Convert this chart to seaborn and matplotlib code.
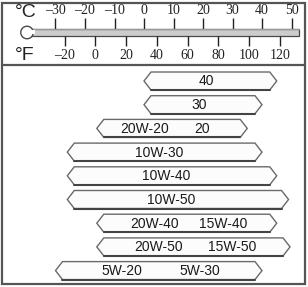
import matplotlib
matplotlib.use("Agg")
import matplotlib.pyplot as plt
from matplotlib.patches import Rectangle, Ellipse
from matplotlib.lines import Line2D
import seaborn as sns

# ---- data ----
celsius_ticks = [-30, -20, -10, 0, 10, 20, 30, 40, 50]
fahrenheit_ticks = [-20, 0, 20, 40, 60, 80, 100, 120]
grade_labels = [["40"], ["30"], ["20W-20", "20"], ["10W-30"], ["10W-40"],
                ["10W-50"], ["20W-40", "15W-40"], ["20W-50", "15W-50"],
                ["5W-20", "5W-30"]]
range_low_c = [0, 0, -16, -26, -26, -26, -16, -16, -30]
range_high_c = [45, 40, 35, 40, 45, 49, 45, 49.5, 40]

sns.set_theme(style="white")
plt.rcParams["font.family"] = ["Liberation Sans", "DejaVu Sans"]

W, H = 308, 287
fig = plt.figure(figsize=(W / 100, H / 100), dpi=100)
fig.patch.set_facecolor("white")

c_lim = (-144 / 2.95, (W - 144) / 2.95)
f_lim = (-95.3 / 1.537, (W - 95.3) / 1.537)
split = 65

# ---- thermometer panel ----
axT = fig.add_axes([0, 1 - split / H, 1, split / H])
axT.set_xlim(*c_lim)
axT.set_ylim(split, 0)
axT.axis("off")
edge = "#4a4a4a"

tube_l, tube_r = (30 - 144) / 2.95, (299 - 144) / 2.95
axT.add_patch(Rectangle((tube_l, 28.5), tube_r - tube_l, 7,
                        facecolor="#cccccc", edgecolor=edge, lw=0.9, zorder=2))
axT.plot([tube_l, tube_r], [28.7, 28.7], color="#9a9a9a", lw=0.9, zorder=3)
axT.add_patch(Ellipse(((27 - 144) / 2.95, 32.5), 12.5 / 2.95, 12.5,
                      facecolor="white", edgecolor=edge, lw=1.0, zorder=3))
axT.add_patch(Rectangle(((31 - 144) / 2.95, 29.6), 4 / 2.95, 4.8,
                        facecolor="white", edgecolor="none", zorder=4))

axT.vlines(celsius_ticks, 18, 28.5, color="#222222", lw=1.0)
for c in celsius_ticks:
    lab = f"\u2013{abs(c)}" if c < 0 else f"{c}"
    axT.text(c, 10, lab, ha="center", va="center", fontsize=10,
             family="Liberation Serif", color="#222222")
axT.text((26 - 144) / 2.95, 12.5, "\u00b0C", ha="center", va="center",
         fontsize=14, color="#222222")

axF = fig.add_axes([0, 1 - split / H, 1, split / H])
axF.set_xlim(*f_lim)
axF.set_ylim(split, 0)
axF.axis("off")
axF.patch.set_alpha(0)
axF.vlines(fahrenheit_ticks, 35.5, 46, color="#222222", lw=1.0)
for f in fahrenheit_ticks:
    lab = f"\u2013{abs(f)}" if f < 0 else f"{f}"
    axF.text(f, 55.5, lab, ha="center", va="center", fontsize=10,
             family="Liberation Serif", color="#222222")
axF.text((25 - 95.3) / 1.537, 56, "\u00b0F", ha="center", va="center",
         fontsize=14, color="#222222")

# ---- oil grade panel ----
axB = fig.add_axes([0, 0, 1, 1 - split / H])
axB.set_xlim(*c_lim)
pitch = 23.7
axB.set_ylim((H - 81) / pitch, (split - 81) / pitch)
axB.axis("off")

tip = 7 / 2.95
hh = 9 / pitch
for i, (lo, hi, labs) in enumerate(zip(range_low_c, range_high_c, grade_labels)):
    xs = [lo, lo + tip, hi - tip, hi, hi - tip, lo + tip, lo]
    ys = [i, i - hh, i - hh, i, i + hh, i + hh, i]
    axB.fill(xs, ys, facecolor="#fcfcfc", edgecolor="#6a6a6a", lw=1.0, zorder=2)
    axB.plot([lo + tip, hi - tip], [i + hh, i + hh], color="#444444", lw=1.5, zorder=3)
    fracs = [0.47] if len(labs) == 1 else [0.32, 0.70]
    for fr, lab in zip(fracs, labs):
        axB.text(lo + fr * (hi - lo), i + 0.02, lab, ha="center", va="center",
                 fontsize=10, color="#1a1a1a", zorder=4)

# ---- frame ----
fig.add_artist(Rectangle((2.5 / W, 3 / H), 302 / W, 281 / H,
                         transform=fig.transFigure, fill=False,
                         edgecolor="#555555", lw=1.6))
fig.add_artist(Line2D([2.5 / W, 304.5 / W], [1 - split / H, 1 - split / H],
                      transform=fig.transFigure, color="#555555", lw=1.6))

fig.savefig("out.png", dpi=100, facecolor="white")
